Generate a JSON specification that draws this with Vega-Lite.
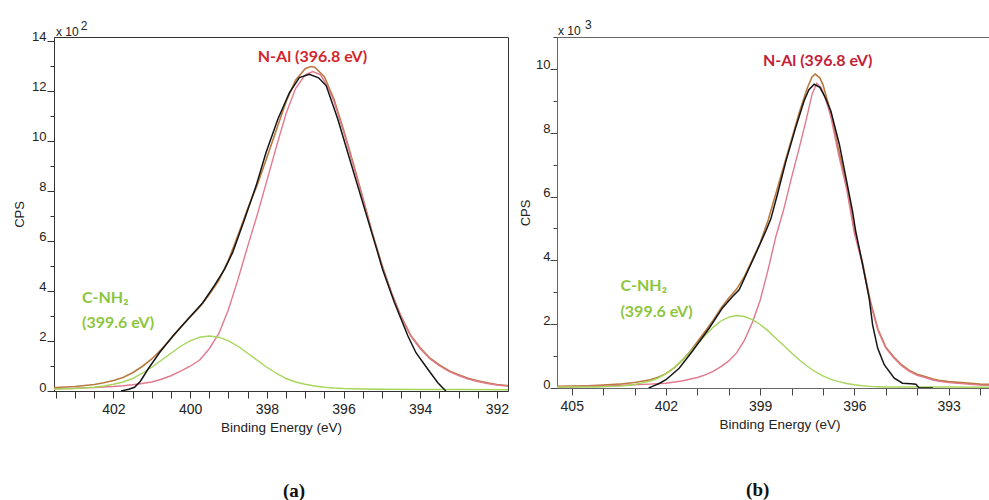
{
  "$schema": "https://vega.github.io/schema/vega-lite/v6.json",
  "padding": {"left": 12, "top": 18, "right": 0, "bottom": 0},
  "spacing": 8,
  "config": {
    "font": "Liberation Sans",
    "view": {"stroke": null},
    "axis": {"labelFont": "Liberation Sans", "titleFont": "Liberation Sans", "labelColor": "#222", "titleColor": "#222", "titleFontWeight": "normal", "grid": false, "labelOverlap": false, "labelFlush": false}
  },
  "datasets": {
    "a_orange": [
      {"E":403.6,"v":0.136},{"E":403.5,"v":0.14},{"E":403.25,"v":0.16},{"E":403.0,"v":0.18},{"E":402.75,"v":0.22},{"E":402.5,"v":0.26},{"E":402.25,"v":0.33},{"E":402.0,"v":0.42},{"E":401.75,"v":0.54},{"E":401.5,"v":0.73},{"E":401.25,"v":0.98},{"E":401.0,"v":1.28},{"E":400.75,"v":1.67},{"E":400.5,"v":2.09},{"E":400.25,"v":2.54},{"E":400.0,"v":2.96},{"E":399.75,"v":3.36},{"E":399.5,"v":3.86},{"E":399.25,"v":4.42},{"E":399.0,"v":5.23},{"E":398.75,"v":6.23},{"E":398.5,"v":7.28},{"E":398.25,"v":8.24},{"E":398.0,"v":9.32},{"E":397.75,"v":10.44},{"E":397.5,"v":11.55},{"E":397.25,"v":12.42},{"E":397.0,"v":12.88},{"E":396.85,"v":12.97},{"E":396.75,"v":12.94},{"E":396.5,"v":12.56},{"E":396.25,"v":11.67},{"E":396.0,"v":10.44},{"E":395.75,"v":9.12},{"E":395.5,"v":7.75},{"E":395.25,"v":6.33},{"E":395.0,"v":5.06},{"E":394.75,"v":3.94},{"E":394.5,"v":2.99},{"E":394.25,"v":2.23},{"E":394.0,"v":1.73},{"E":393.75,"v":1.32},{"E":393.5,"v":1.04},{"E":393.25,"v":0.81},{"E":393.0,"v":0.65},{"E":392.75,"v":0.51},{"E":392.5,"v":0.41},{"E":392.25,"v":0.33},{"E":392.0,"v":0.26},{"E":391.75,"v":0.22},{"E":391.6,"v":0.2}
    ],
    "a_pink": [
      {"E":403.6,"v":0.09},{"E":403.5,"v":0.09},{"E":403.25,"v":0.1},{"E":403.0,"v":0.11},{"E":402.75,"v":0.13},{"E":402.5,"v":0.14},{"E":402.25,"v":0.16},{"E":402.0,"v":0.18},{"E":401.75,"v":0.21},{"E":401.5,"v":0.25},{"E":401.25,"v":0.30},{"E":401.0,"v":0.36},{"E":400.75,"v":0.47},{"E":400.5,"v":0.61},{"E":400.25,"v":0.79},{"E":400.0,"v":0.99},{"E":399.75,"v":1.24},{"E":399.5,"v":1.69},{"E":399.25,"v":2.3},{"E":399.0,"v":3.26},{"E":398.75,"v":4.47},{"E":398.5,"v":5.78},{"E":398.25,"v":7.04},{"E":398.0,"v":8.4},{"E":397.75,"v":9.77},{"E":397.5,"v":11.08},{"E":397.25,"v":12.09},{"E":397.0,"v":12.64},{"E":396.8,"v":12.77},{"E":396.6,"v":12.64},{"E":396.4,"v":12.12},{"E":396.25,"v":11.58},{"E":396.0,"v":10.37},{"E":395.75,"v":9.06},{"E":395.5,"v":7.7},{"E":395.25,"v":6.29},{"E":395.0,"v":5.02},{"E":394.75,"v":3.91},{"E":394.5,"v":2.96},{"E":394.25,"v":2.2},{"E":394.0,"v":1.69},{"E":393.75,"v":1.29},{"E":393.5,"v":1.01},{"E":393.25,"v":0.78},{"E":393.0,"v":0.62},{"E":392.75,"v":0.48},{"E":392.5,"v":0.38},{"E":392.25,"v":0.30},{"E":392.0,"v":0.24},{"E":391.75,"v":0.2},{"E":391.6,"v":0.19}
    ],
    "a_green": [
      {"E":403.6,"v":0.08},{"E":403.5,"v":0.08},{"E":403.25,"v":0.09},{"E":403.0,"v":0.1},{"E":402.75,"v":0.12},{"E":402.5,"v":0.15},{"E":402.25,"v":0.2},{"E":402.0,"v":0.27},{"E":401.75,"v":0.36},{"E":401.5,"v":0.5},{"E":401.25,"v":0.71},{"E":401.0,"v":0.95},{"E":400.75,"v":1.23},{"E":400.5,"v":1.51},{"E":400.25,"v":1.79},{"E":400.0,"v":2.0},{"E":399.75,"v":2.15},{"E":399.5,"v":2.2},{"E":399.25,"v":2.15},{"E":399.0,"v":2.0},{"E":398.75,"v":1.79},{"E":398.5,"v":1.51},{"E":398.25,"v":1.23},{"E":398.0,"v":0.95},{"E":397.75,"v":0.71},{"E":397.5,"v":0.5},{"E":397.25,"v":0.36},{"E":397.0,"v":0.27},{"E":396.75,"v":0.2},{"E":396.5,"v":0.15},{"E":396.25,"v":0.12},{"E":396.0,"v":0.1},{"E":395.75,"v":0.09},{"E":395.5,"v":0.08},{"E":395.0,"v":0.07},{"E":394.0,"v":0.06},{"E":393.0,"v":0.06},{"E":391.6,"v":0.05}
    ],
    "a_black": [
      {"E":401.8,"v":0.0},{"E":401.6,"v":0.07},{"E":401.45,"v":0.15},{"E":401.3,"v":0.38},{"E":401.1,"v":0.87},{"E":400.8,"v":1.53},{"E":400.45,"v":2.2},{"E":400.06,"v":2.87},{"E":399.67,"v":3.53},{"E":399.37,"v":4.21},{"E":399.1,"v":4.87},{"E":398.89,"v":5.54},{"E":398.58,"v":6.87},{"E":398.28,"v":8.2},{"E":398.02,"v":9.53},{"E":397.71,"v":10.87},{"E":397.41,"v":11.93},{"E":397.15,"v":12.53},{"E":396.89,"v":12.66},{"E":396.65,"v":12.52},{"E":396.45,"v":12.2},{"E":396.15,"v":10.87},{"E":395.89,"v":9.53},{"E":395.63,"v":8.2},{"E":395.37,"v":6.87},{"E":395.11,"v":5.54},{"E":394.98,"v":4.86},{"E":394.67,"v":3.53},{"E":394.32,"v":2.2},{"E":394.11,"v":1.53},{"E":393.8,"v":0.87},{"E":393.54,"v":0.33},{"E":393.33,"v":0.0}
    ],
    "b_orange": [
      {"E":405.6,"v":0.05},{"E":405.0,"v":0.06},{"E":404.5,"v":0.07},{"E":404.0,"v":0.09},{"E":403.5,"v":0.12},{"E":403.0,"v":0.17},{"E":402.5,"v":0.26},{"E":402.25,"v":0.34},{"E":402.0,"v":0.45},{"E":401.75,"v":0.62},{"E":401.5,"v":0.85},{"E":401.25,"v":1.12},{"E":401.0,"v":1.45},{"E":400.75,"v":1.78},{"E":400.5,"v":2.12},{"E":400.25,"v":2.5},{"E":400.0,"v":2.82},{"E":399.75,"v":3.1},{"E":399.5,"v":3.5},{"E":399.25,"v":4.02},{"E":399.0,"v":4.55},{"E":398.75,"v":5.25},{"E":398.5,"v":6.1},{"E":398.25,"v":6.95},{"E":398.0,"v":7.8},{"E":397.75,"v":8.65},{"E":397.5,"v":9.4},{"E":397.35,"v":9.75},{"E":397.25,"v":9.84},{"E":397.1,"v":9.72},{"E":397.0,"v":9.5},{"E":396.9,"v":9.15},{"E":396.75,"v":8.62},{"E":396.5,"v":7.45},{"E":396.25,"v":6.38},{"E":396.0,"v":4.95},{"E":395.75,"v":3.97},{"E":395.5,"v":2.75},{"E":395.25,"v":1.84},{"E":395.0,"v":1.28},{"E":394.75,"v":0.98},{"E":394.5,"v":0.73},{"E":394.25,"v":0.55},{"E":394.0,"v":0.43},{"E":393.75,"v":0.36},{"E":393.5,"v":0.28},{"E":393.25,"v":0.23},{"E":393.0,"v":0.2},{"E":392.5,"v":0.16},{"E":392.0,"v":0.12},{"E":391.2,"v":0.1}
    ],
    "b_pink": [
      {"E":405.6,"v":0.03},{"E":405.0,"v":0.04},{"E":404.5,"v":0.05},{"E":404.0,"v":0.06},{"E":403.5,"v":0.08},{"E":403.0,"v":0.10},{"E":402.5,"v":0.12},{"E":402.0,"v":0.15},{"E":401.5,"v":0.22},{"E":401.0,"v":0.33},{"E":400.75,"v":0.41},{"E":400.5,"v":0.52},{"E":400.25,"v":0.67},{"E":400.0,"v":0.85},{"E":399.75,"v":1.1},{"E":399.5,"v":1.5},{"E":399.25,"v":2.05},{"E":399.0,"v":2.75},{"E":398.75,"v":3.7},{"E":398.5,"v":4.75},{"E":398.25,"v":5.6},{"E":398.0,"v":6.6},{"E":397.75,"v":7.55},{"E":397.5,"v":8.55},{"E":397.35,"v":9.2},{"E":397.2,"v":9.55},{"E":397.05,"v":9.4},{"E":396.9,"v":9.0},{"E":396.75,"v":8.5},{"E":396.5,"v":7.3},{"E":396.25,"v":6.25},{"E":396.0,"v":4.85},{"E":395.75,"v":3.9},{"E":395.5,"v":2.7},{"E":395.25,"v":1.8},{"E":395.0,"v":1.25},{"E":394.75,"v":0.95},{"E":394.5,"v":0.7},{"E":394.25,"v":0.52},{"E":394.0,"v":0.4},{"E":393.75,"v":0.33},{"E":393.5,"v":0.25},{"E":393.25,"v":0.2},{"E":393.0,"v":0.17},{"E":392.5,"v":0.13},{"E":392.0,"v":0.09},{"E":391.2,"v":0.07}
    ],
    "b_green": [
      {"E":405.6,"v":0.02},{"E":405.0,"v":0.03},{"E":404.5,"v":0.03},{"E":404.25,"v":0.03},{"E":404.0,"v":0.04},{"E":403.75,"v":0.05},{"E":403.5,"v":0.06},{"E":403.25,"v":0.08},{"E":403.0,"v":0.11},{"E":402.75,"v":0.16},{"E":402.5,"v":0.22},{"E":402.25,"v":0.31},{"E":402.0,"v":0.45},{"E":401.75,"v":0.63},{"E":401.5,"v":0.85},{"E":401.25,"v":1.10},{"E":401.0,"v":1.38},{"E":400.75,"v":1.65},{"E":400.5,"v":1.90},{"E":400.25,"v":2.10},{"E":400.0,"v":2.22},{"E":399.75,"v":2.27},{"E":399.5,"v":2.24},{"E":399.25,"v":2.14},{"E":399.0,"v":1.99},{"E":398.75,"v":1.79},{"E":398.5,"v":1.56},{"E":398.25,"v":1.33},{"E":398.0,"v":1.10},{"E":397.75,"v":0.88},{"E":397.5,"v":0.68},{"E":397.25,"v":0.51},{"E":397.0,"v":0.38},{"E":396.75,"v":0.27},{"E":396.5,"v":0.20},{"E":396.25,"v":0.14},{"E":396.0,"v":0.10},{"E":395.75,"v":0.07},{"E":395.5,"v":0.05},{"E":395.25,"v":0.04},{"E":395.0,"v":0.03},{"E":393.0,"v":0.03},{"E":391.2,"v":0.02}
    ],
    "b_black": [
      {"E":402.55,"v":0.0},{"E":402.43,"v":0.05},{"E":402.2,"v":0.15},{"E":402.0,"v":0.26},{"E":401.58,"v":0.62},{"E":401.16,"v":1.15},{"E":400.62,"v":1.88},{"E":400.2,"v":2.51},{"E":399.88,"v":2.87},{"E":399.67,"v":3.08},{"E":399.35,"v":3.76},{"E":399.1,"v":4.3},{"E":398.82,"v":4.92},{"E":398.66,"v":5.3},{"E":398.45,"v":6.07},{"E":398.18,"v":7.11},{"E":397.87,"v":8.16},{"E":397.6,"v":9.0},{"E":397.45,"v":9.35},{"E":397.28,"v":9.52},{"E":397.1,"v":9.42},{"E":396.95,"v":9.15},{"E":396.75,"v":8.68},{"E":396.48,"v":7.64},{"E":396.27,"v":6.59},{"E":396.06,"v":5.54},{"E":395.96,"v":4.92},{"E":395.74,"v":3.87},{"E":395.53,"v":2.82},{"E":395.42,"v":1.98},{"E":395.26,"v":1.25},{"E":395.05,"v":0.73},{"E":394.73,"v":0.31},{"E":394.47,"v":0.15},{"E":394.2,"v":0.13},{"E":394.04,"v":0.12},{"E":393.94,"v":0.0},{"E":393.5,"v":0.0}
    ]
  },
  "hconcat": [
    {
      "width": 454,
      "height": 354,
      "view": {"stroke": "#333", "strokeWidth": 1},
      "encoding": {
        "x": {"field": "E", "type": "quantitative", "title": "Binding Energy (eV)",
          "scale": {"domain": [391.71, 403.55], "reverse": true, "nice": false, "zero": false},
          "axis": {"values": [392,392.5,393,393.5,394,394.5,395,395.5,396,396.5,397,397.5,398,398.5,399,399.5,400,400.5,401,401.5,402,402.5,403,403.5],
            "format": ".0f", "labelExpr": "datum.value % 2 === 0 ? datum.label : ''",
            "tickSize": 7, "labelPadding": 4, "labelFontSize": 14, "titleFontSize": 13.5, "titlePadding": 4, "domainColor": "#333", "tickColor": "#333"}},
        "y": {"field": "v", "type": "quantitative", "title": "CPS",
          "scale": {"domain": [0, 14.15], "nice": false},
          "axis": {"values": [0,1,2,3,4,5,6,7,8,9,10,11,12,13,14], "format": "d",
            "labelExpr": "datum.value % 2 === 0 ? datum.label : ''",
            "tickSize": {"condition": {"test": "datum.value % 2 === 0", "value": 7}, "value": 4},
            "labelPadding": 1, "labelFontSize": 13, "labelBaseline": "alphabetic",
            "titleFontSize": 13, "titlePadding": 6, "minExtent": 22, "maxExtent": 22, "domainColor": "#333", "tickColor": "#333"}}
      },
      "layer": [
        {"data": {"name": "a_orange"}, "mark": {"type": "line", "color": "#b97a3f", "strokeWidth": 1.6, "clip": true}},
        {"data": {"name": "a_pink"}, "mark": {"type": "line", "color": "#e2798e", "strokeWidth": 1.4, "clip": true}},
        {"data": {"name": "a_green"}, "mark": {"type": "line", "color": "#a6d65a", "strokeWidth": 1.4, "clip": true}},
        {"data": {"name": "a_black"}, "mark": {"type": "line", "color": "#151515", "strokeWidth": 1.5, "clip": true}},
        {"data": {"values": [{"E": 396.81, "v": 13.35, "t": "N-Al (396.8 eV)"}]},
          "mark": {"type": "text", "font": "Lato", "fontWeight": "bold", "fontSize": 16, "color": "#d3262b", "align": "center", "baseline": "middle"},
          "encoding": {"text": {"field": "t"}}},
        {"data": {"values": [{"E": 402.82, "v": 3.73, "t": "C-NH₂"}, {"E": 402.82, "v": 2.73, "t": "(399.6 eV)"}]},
          "mark": {"type": "text", "font": "Lato", "fontWeight": "bold", "fontSize": 16, "color": "#8dc63f", "align": "left", "baseline": "middle"},
          "encoding": {"text": {"field": "t"}}},
        {"data": {"values": [{"E": 403.5, "v": 14.17, "t": "x 10"}, {"E": 402.85, "v": 14.41, "t": "2"}]},
          "mark": {"type": "text", "font": "Liberation Sans", "fontSize": 12, "color": "#222", "align": "left", "baseline": "alphabetic"},
          "encoding": {"text": {"field": "t"}}},
        {"data": {"values": [{"E": 397.29, "v": -3.99, "t": "(a)"}]},
          "mark": {"type": "text", "font": "Liberation Serif", "fontWeight": "bold", "fontSize": 19, "color": "#111", "align": "center", "baseline": "middle"},
          "encoding": {"text": {"field": "t"}}}
      ]
    },
    {
      "width": 445,
      "height": 351,
      "view": {"stroke": "#666", "strokeWidth": 1},
      "encoding": {
        "x": {"field": "E", "type": "quantitative", "title": "Binding Energy (eV)",
          "scale": {"domain": [391.3, 405.47], "reverse": true, "nice": false, "zero": false},
          "axis": {"values": [392,393,394,395,396,397,398,399,400,401,402,403,404,405],
            "format": "d", "labelExpr": "datum.value % 3 === 0 ? datum.label : ''",
            "tickSize": 7, "labelPadding": 4, "labelFontSize": 14, "titleFontSize": 13.5, "titlePadding": 4, "domainColor": "#666", "tickColor": "#444"}},
        "y": {"field": "v", "type": "quantitative", "title": "CPS",
          "scale": {"domain": [0, 11], "nice": false},
          "axis": {"values": [0,1,2,3,4,5,6,7,8,9,10,11], "format": "d",
            "labelExpr": "datum.value % 2 === 0 ? datum.label : ''",
            "tickSize": {"condition": {"test": "datum.value % 2 === 0", "value": 7}, "value": 4},
            "labelPadding": 0, "labelFontSize": 13, "labelBaseline": "alphabetic",
            "titleFontSize": 13, "titlePadding": 4, "minExtent": 21, "maxExtent": 21, "domainColor": "#666", "tickColor": "#444"}}
      },
      "layer": [
        {"data": {"name": "b_orange"}, "mark": {"type": "line", "color": "#b97a3f", "strokeWidth": 1.6, "clip": true}},
        {"data": {"name": "b_pink"}, "mark": {"type": "line", "color": "#e2798e", "strokeWidth": 1.4, "clip": true}},
        {"data": {"name": "b_green"}, "mark": {"type": "line", "color": "#a6d65a", "strokeWidth": 1.4, "clip": true}},
        {"data": {"name": "b_black"}, "mark": {"type": "line", "color": "#151515", "strokeWidth": 1.5, "clip": true}},
        {"data": {"values": [{"E": 397.17, "v": 10.24, "t": "N-Al (396.8 eV)"}]},
          "mark": {"type": "text", "font": "Lato", "fontWeight": "bold", "fontSize": 16, "color": "#c41e3a", "align": "center", "baseline": "middle"},
          "encoding": {"text": {"field": "t"}}},
        {"data": {"values": [{"E": 403.45, "v": 3.19, "t": "C-NH₂"}, {"E": 403.45, "v": 2.39, "t": "(399.6 eV)"}]},
          "mark": {"type": "text", "font": "Lato", "fontWeight": "bold", "fontSize": 16, "color": "#8dc63f", "align": "left", "baseline": "middle"},
          "encoding": {"text": {"field": "t"}}},
        {"data": {"values": [{"E": 405.44, "v": 11.07, "t": "x 10"}, {"E": 404.58, "v": 11.26, "t": "3"}]},
          "mark": {"type": "text", "font": "Liberation Sans", "fontSize": 12, "color": "#222", "align": "left", "baseline": "alphabetic"},
          "encoding": {"text": {"field": "t"}}},
        {"data": {"values": [{"E": 399.08, "v": -3.19, "t": "(b)"}]},
          "mark": {"type": "text", "font": "Liberation Serif", "fontWeight": "bold", "fontSize": 19, "color": "#111", "align": "center", "baseline": "middle"},
          "encoding": {"text": {"field": "t"}}}
      ]
    }
  ]
}
